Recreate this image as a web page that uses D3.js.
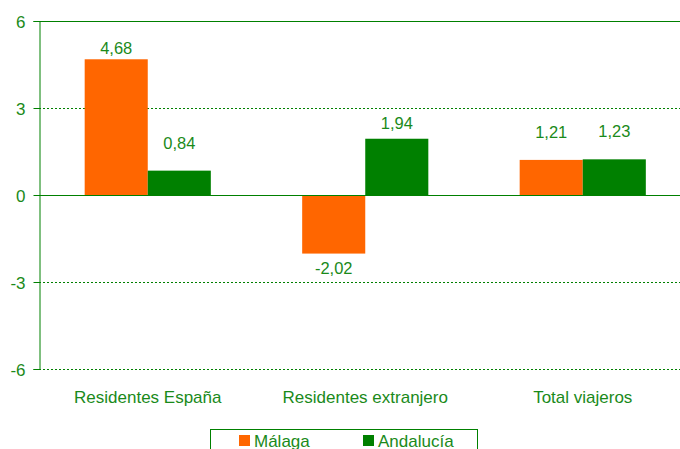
<!DOCTYPE html>
<html><head><meta charset="utf-8">
<script src="https://cdn.jsdelivr.net/npm/d3@7"></script>
<style>body{margin:0;background:#fff}svg{display:block}text{font-family:"Liberation Sans",Arial,sans-serif}</style>
</head><body><svg id="c" width="680" height="449"></svg>
<script>
const categories = ["Residentes España", "Residentes extranjero", "Total viajeros"];
const seriesNames = ["Málaga", "Andalucía"];
const malaga = [4.68, -2.02, 1.21];
const andalucia = [0.84, 1.94, 1.23];
const yTicks = [-6, -3, 0, 3, 6];

(function () {
const colors = ["#FF6600", "#008000"];
const textColor = "#1a8a1a";
const FONT = "'Liberation Sans',Arial,sans-serif";
const svg = d3.select("#c");
const W = 680;
const plotLeft = 39, plotTop = 21, plotBottom = 369, plotRight = 691.5;
const fmt = v => d3.format(".2f")(v).replace(".", ",").replace("\u2212", "-");

const y = d3.scaleLinear().domain([-6, 6]).range([plotBottom, plotTop]);
const x0 = d3.scaleBand().domain(categories).range([plotLeft, plotRight]).paddingInner(0.42).paddingOuter(0.21);
const x1 = d3.scaleBand().domain(seriesNames).range([0, x0.bandwidth()]);

// gridlines
svg.append("g").selectAll("line").data(yTicks).join("line")
  .attr("x1", plotLeft).attr("x2", W)
  .attr("y1", d => Math.round(y(d)) + 0.5).attr("y2", d => Math.round(y(d)) + 0.5)
  .attr("stroke", "#008000").attr("stroke-width", 1)
  .attr("stroke-dasharray", d => (d === 0 || d === 6) ? null : "2,2");

// bars
const rows = categories.map((c, i) => ({c, vals: [malaga[i], andalucia[i]]}));
const groups = svg.append("g").selectAll("g").data(rows).join("g")
  .attr("transform", d => `translate(${x0(d.c)},0)`);
groups.selectAll("rect").data(d => d.vals.map((v, j) => ({v, s: seriesNames[j], j}))).join("rect")
  .attr("x", d => x1(d.s)).attr("width", x1.bandwidth())
  .attr("y", d => y(Math.max(0, d.v))).attr("height", d => Math.abs(y(d.v) - y(0)))
  .attr("fill", d => colors[d.j]);

// zero line over bars
svg.append("line").attr("x1", plotLeft).attr("x2", W)
  .attr("y1", Math.round(y(0)) + 0.5).attr("y2", Math.round(y(0)) + 0.5).attr("stroke", "#008000");

// axis
const axis = d3.axisLeft(y).tickValues(yTicks).tickSize(6).tickPadding(8)
  .tickFormat(d => d3.format("d")(d).replace("\u2212", "-"));
const ag = svg.append("g").attr("transform", `translate(${plotLeft + 0.5},0)`).call(axis)
  .attr("font-size", 17).attr("font-family", FONT);
ag.select(".domain").attr("stroke", "#008000");
ag.selectAll(".tick line").attr("stroke", "#008000");
ag.selectAll(".tick text").attr("fill", textColor).attr("dy", "0.36em");

// value labels (layout gap above/below bar end, in px)
const gapAbove = v => v > 4 ? 5 : (v > 1.5 ? 10 : 22);
groups.selectAll("text").data(d => d.vals.map((v, j) => ({v, s: seriesNames[j], j}))).join("text")
  .attr("x", d => x1(d.s) + x1.bandwidth() / 2)
  .attr("y", d => d.v >= 0 ? y(d.v) - gapAbove(d.v) : y(d.v) + 20)
  .attr("text-anchor", "middle").attr("fill", textColor).style("font-size", "16.5px")
  .text(d => fmt(d.v));

// category labels
svg.append("g").selectAll("text").data(categories).join("text")
  .attr("x", d => x0(d) + x0.bandwidth() / 2).attr("y", 403)
  .attr("text-anchor", "middle").attr("fill", textColor).style("font-size", "17px")
  .text(d => d);

// legend
const lg = svg.append("g");
lg.append("rect").attr("x", 210.5).attr("y", 429.5).attr("width", 267).attr("height", 30)
  .attr("fill", "#fff").attr("stroke", "#008000");
const lx = [239, 363];
seriesNames.forEach((s, i) => {
  lg.append("rect").attr("x", lx[i]).attr("y", 435).attr("width", 11).attr("height", 11).attr("fill", colors[i]);
  lg.append("text").attr("x", lx[i] + 15).attr("y", 447).attr("fill", textColor).style("font-size", "17px").text(s);
});
})();
</script></body></html>
